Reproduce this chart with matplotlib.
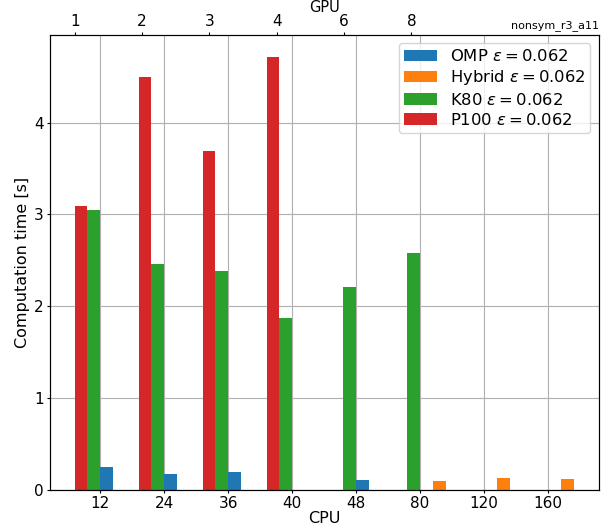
import numpy as np
import matplotlib
matplotlib.use("Agg")
import matplotlib.pyplot as plt

cpu_labels = ["12", "24", "36", "40", "48", "80", "120", "160"]
gpu_labels = ["1", "2", "3", "4", "6", "8"]

omp = [0.25, 0.17, 0.19, np.nan, 0.10, np.nan, np.nan, np.nan]
hybrid = [np.nan, np.nan, np.nan, np.nan, np.nan, 0.09, 0.12, 0.11]
k80 = [3.05, 2.46, 2.38, 1.87, 2.21, 2.58, np.nan, np.nan]
p100 = [3.09, 4.50, 3.69, 4.72, np.nan, np.nan, np.nan, np.nan]

eps = 0.062
series = [
    ("OMP", omp, "#1f77b4", 0.5),
    ("Hybrid", hybrid, "#ff7f0e", 1.5),
    ("K80", k80, "#2ca02c", -0.5),
    ("P100", p100, "#d62728", -1.5),
]

plt.rcParams["font.size"] = 11.5
fig = plt.figure(figsize=(6.04, 5.27), dpi=100)
ax = fig.add_axes([49.7 / 604, 1 - 489.5 / 527, (598.5 - 49.7) / 604, (489.5 - 35) / 527])

x = np.arange(len(cpu_labels))
w = 0.2
for name, vals, color, off in series:
    ax.bar(x + off * w, vals, width=w, color=color,
           label=f"{name} $\\varepsilon = {eps}$")

ax.set_xticks(x)
ax.set_xticklabels(cpu_labels)
ax.set_xlabel("CPU", labelpad=0.5, fontsize=11.5)
ax.set_ylabel("Computation time [s]", fontsize=11.5, labelpad=3)
ax.set_yticks([0, 1, 2, 3, 4])
ax.tick_params(axis="both", labelsize=11, length=2.4, pad=2.0)
ax.grid(True, color="#b0b0b0", linewidth=0.8)
ax.set_axisbelow(True)
ax.legend(loc="upper right", fontsize=11.8, labelspacing=0.26, borderpad=0.3)

ax2 = ax.twiny()
ax2.set_xlim(-0.371, 7.777)
ax2.set_xticks(np.arange(len(gpu_labels)))
ax2.set_xticklabels(gpu_labels)
ax2.tick_params(axis="x", labelsize=11, length=2.4, pad=2.0)
ax2.set_xlabel("GPU", labelpad=1.5, fontsize=10.5)

ax.text(1.0, 1.008, "nonsym_r3_a11", transform=ax.transAxes,
        ha="right", va="bottom", fontsize=8)

fig.savefig("out.png", dpi=100)
